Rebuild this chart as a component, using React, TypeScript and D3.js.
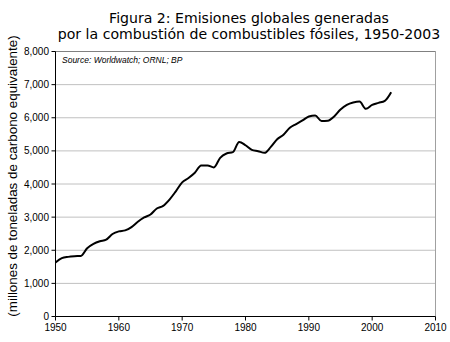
import React from "react";
import * as d3 from "d3";

const years = d3.range(1950, 2004);
const emissions = [
  1630, 1760, 1800, 1820, 1830, 2060, 2190, 2270, 2320, 2490,
  2570, 2600, 2700, 2860, 2990, 3080, 3260, 3340, 3530, 3780,
  4050, 4180, 4340, 4560, 4560, 4500, 4790, 4920, 4960, 5270,
  5170, 5030, 4990, 4940, 5120, 5350, 5490, 5700, 5810, 5920,
  6040, 6070, 5900, 5910, 6040, 6250, 6390, 6460, 6490, 6270,
  6390, 6450, 6510, 6770,
];
const yTicks = [0, 1000, 2000, 3000, 4000, 5000, 6000, 7000, 8000];
const xTicks = [1950, 1960, 1970, 1980, 1990, 2000, 2010];
const titleLines = [
  "Figura 2: Emisiones globales generadas",
  "por la combustión de combustibles fósiles, 1950-2003",
];
const yLabel = "(millones de toneladas de carbono equivalente)";
const sourceText = "Source:  Worldwatch; ORNL; BP";

export default function App() {
  const W = 450, H = 342;
  const x = d3.scaleLinear().domain([1950, 2010]).range([55.5, 435.5]);
  const y = d3.scaleLinear().domain([0, 8000]).range([316.5, 51.5]);
  const data = years.map((yr, i) => ({ yr, v: emissions[i] }));
  const line = d3.line<{ yr: number; v: number }>().x(d => x(d.yr)).y(d => y(d.v)).curve(d3.curveMonotoneX);
  return (
    <svg width={W} height={H} style={{ position: "absolute", left: 0, top: 0, background: "#fff" }}>
      <rect width={W} height={H} fill="#fff" />
      {titleLines.map((t, i) => (
        <text key={i} x={249} y={23 + i * 15.5} textAnchor="middle" fontFamily="DejaVu Sans, Verdana, sans-serif" fontSize={14.1} fill="#000">{t}</text>
      ))}
      <text transform={`translate(17,176) rotate(-90)`} textAnchor="middle" fontFamily="Liberation Sans, Arial, sans-serif" fontSize={13.4} fill="#000">{yLabel}</text>
      {yTicks.slice(1).map(t => (
        <line key={t} x1={x(1950)} x2={x(2010)} y1={y(t)} y2={y(t)} stroke="#c0c0c0" strokeWidth={1} />
      ))}
      <line x1={x(2010)} x2={x(2010)} y1={y(8000)} y2={y(0)} stroke="#a0a0a0" strokeWidth={1} />
      <line x1={x(1950)} x2={x(2010)} y1={y(8000)} y2={y(8000)} stroke="#808080" strokeWidth={1} />
      <line x1={x(1950)} x2={x(1950)} y1={y(8000)} y2={y(0)} stroke="#000" strokeWidth={1} />
      <line x1={x(1950)} x2={x(2010)} y1={y(0)} y2={y(0)} stroke="#000" strokeWidth={1} />
      {yTicks.map(t => (
        <g key={t}>
          <line x1={x(1950) - 4} x2={x(1950)} y1={y(t)} y2={y(t)} stroke="#000" />
          <text x={49} y={y(t) + 3.5} textAnchor="end" fontFamily="Liberation Sans, Arial, sans-serif" fontSize={10} fill="#000">{d3.format(",")(t)}</text>
        </g>
      ))}
      {xTicks.map(t => (
        <g key={t}>
          <line x1={x(t)} x2={x(t)} y1={y(0)} y2={y(0) + 4} stroke="#000" />
          <text x={x(t)} y={331} textAnchor="middle" fontFamily="Liberation Sans, Arial, sans-serif" fontSize={10} fill="#000">{t}</text>
        </g>
      ))}
      <text x={62} y={63} fontFamily="Liberation Sans, Arial, sans-serif" fontStyle="italic" fontSize={8.5} fill="#000">{sourceText}</text>
      <path d={line(data) || ""} fill="none" stroke="#000" strokeWidth={2} strokeLinejoin="round" />
    </svg>
  );
}
